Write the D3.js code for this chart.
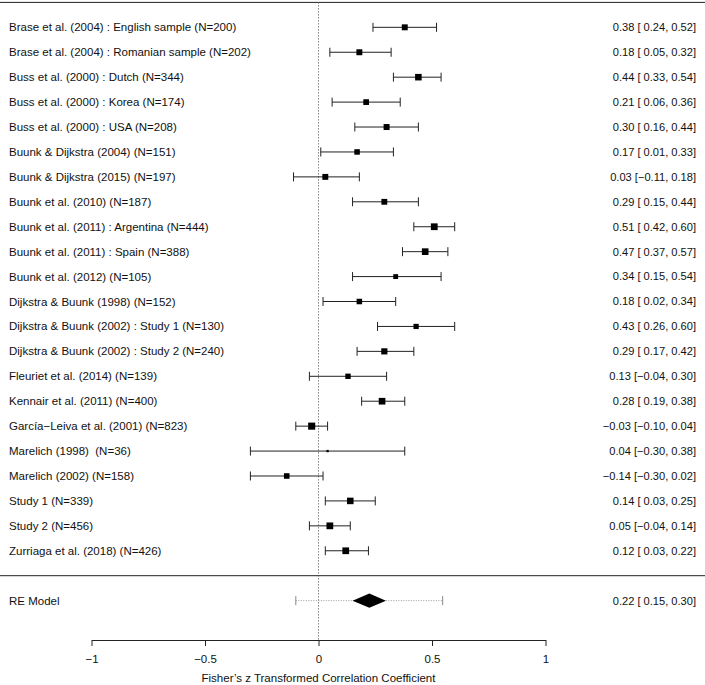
<!DOCTYPE html>
<html>
<head>
<meta charset="utf-8">
<script src="https://cdn.jsdelivr.net/npm/d3@7"></script>
<style>
  html, body { margin: 0; padding: 0; background: #fff; }
  svg { display: block; font-family: "Liberation Sans", Arial, Helvetica, sans-serif; }
  text { white-space: pre; }
</style>
</head>
<body>
<svg id="chart" width="705" height="685"></svg>
<script>
const studies = [
  "Brase et al. (2004) : English sample (N=200)",
  "Brase et al. (2004) : Romanian sample (N=202)",
  "Buss et al. (2000) : Dutch (N=344)",
  "Buss et al. (2000) : Korea (N=174)",
  "Buss et al. (2000) : USA (N=208)",
  "Buunk & Dijkstra (2004) (N=151)",
  "Buunk & Dijkstra (2015) (N=197)",
  "Buunk et al. (2010) (N=187)",
  "Buunk et al. (2011) : Argentina (N=444)",
  "Buunk et al. (2011) : Spain (N=388)",
  "Buunk et al. (2012) (N=105)",
  "Dijkstra & Buunk (1998) (N=152)",
  "Dijkstra & Buunk (2002) : Study 1 (N=130)",
  "Dijkstra & Buunk (2002) : Study 2 (N=240)",
  "Fleuriet et al. (2014) (N=139)",
  "Kennair et al. (2011) (N=400)",
  "García\u2212Leiva et al. (2001) (N=823)",
  "Marelich (1998)  (N=36)",
  "Marelich (2002) (N=158)",
  "Study 1 (N=339)",
  "Study 2 (N=456)",
  "Zurriaga et al. (2018) (N=426)"
];
const sampleN = [200, 202, 344, 174, 208, 151, 197, 187, 444, 388, 105, 152, 130, 240, 139, 400, 823, 36, 158, 339, 456, 426];
const estimate = [0.38, 0.18, 0.44, 0.21, 0.30, 0.17, 0.03, 0.29, 0.51, 0.47, 0.34, 0.18, 0.43, 0.29, 0.13, 0.28, -0.03, 0.04, -0.14, 0.14, 0.05, 0.12];
const ciLower  = [0.24, 0.05, 0.33, 0.06, 0.16, 0.01, -0.11, 0.15, 0.42, 0.37, 0.15, 0.02, 0.26, 0.17, -0.04, 0.19, -0.10, -0.30, -0.30, 0.03, -0.04, 0.03];
const ciUpper  = [0.52, 0.32, 0.54, 0.36, 0.44, 0.33, 0.18, 0.44, 0.60, 0.57, 0.54, 0.34, 0.60, 0.42, 0.30, 0.38, 0.04, 0.38, 0.02, 0.25, 0.14, 0.22];

const reLabel = "RE Model";
const reEstimate = 0.224;
const reLower = 0.15;
const reUpper = 0.297;
const rePredLower = -0.10;
const rePredUpper = 0.547;
const tau2 = 0.025;

const xTicks = [-1, -0.5, 0, 0.5, 1];
const xTitle = "Fisher\u2019s z Transformed Correlation Coefficient";

// ---------------------------------------------
const W = 705, H = 685;
const svg = d3.select("#chart");
const k = studies.length;

const x = d3.scaleLinear().domain([-1, 1]).range([91.5, 545.5]);
// row k+1 = top line, rows k..1 studies, 0 = separator, -1 = RE model
const y = d3.scaleLinear().domain([k + 1, 0]).range([2.4, 575.7]);
const axisY = 640;

const fmt = v => (v < 0 ? "\u2212" : "") + Math.abs(v).toFixed(2);
const fmtPad = v => (v < 0 ? "\u2212" : " ") + Math.abs(v).toFixed(2);
const annot = (e, l, u) => `${fmt(e)} [${fmtPad(l)}, ${fmt(u)}]`;

// weights -> square size
const weights = sampleN.map(n => 1 / (1 / (n - 3) + tau2));
const wScale = d3.scaleLinear().domain(d3.extent(weights)).range([2.3, 7.1]);

const fontSize = 11.5;
const annotSize = 11.1;
const capH = 4.5;

// horizontal lines
svg.append("line").attr("x1", 0).attr("x2", W).attr("y1", y(k + 1)).attr("y2", y(k + 1))
  .attr("stroke", "#222").attr("stroke-width", 1);
svg.append("line").attr("x1", 0).attr("x2", W).attr("y1", y(0)).attr("y2", y(0))
  .attr("stroke", "#222").attr("stroke-width", 1);

// vertical reference line at 0
svg.append("line").attr("x1", x(0)).attr("x2", x(0)).attr("y1", y(k + 1)).attr("y2", axisY)
  .attr("stroke", "#444").attr("stroke-width", 1).attr("stroke-dasharray", "1,2");

const rows = studies.map((s, i) => ({
  label: s, est: estimate[i], lo: ciLower[i], hi: ciUpper[i], w: weights[i], row: k - i
}));

const g = svg.append("g");
const rg = g.selectAll("g.row").data(rows).join("g").attr("class", "row");

rg.append("line")
  .attr("x1", d => x(d.lo)).attr("x2", d => x(d.hi))
  .attr("y1", d => y(d.row)).attr("y2", d => y(d.row))
  .attr("stroke", "#222").attr("stroke-width", 1);
rg.append("line")
  .attr("x1", d => x(d.lo)).attr("x2", d => x(d.lo))
  .attr("y1", d => y(d.row) - capH).attr("y2", d => y(d.row) + capH)
  .attr("stroke", "#222").attr("stroke-width", 1);
rg.append("line")
  .attr("x1", d => x(d.hi)).attr("x2", d => x(d.hi))
  .attr("y1", d => y(d.row) - capH).attr("y2", d => y(d.row) + capH)
  .attr("stroke", "#222").attr("stroke-width", 1);
rg.append("rect")
  .attr("x", d => x(d.est) - wScale(d.w) / 2)
  .attr("y", d => y(d.row) - wScale(d.w) / 2)
  .attr("width", d => wScale(d.w)).attr("height", d => wScale(d.w))
  .attr("fill", "#000");
rg.append("text")
  .attr("x", 9).attr("y", d => y(d.row)).attr("dy", "0.35em")
  .attr("font-size", fontSize).attr("fill", "#111")
  .text(d => d.label);
rg.append("text")
  .attr("x", 696).attr("y", d => y(d.row)).attr("dy", "0.35em")
  .attr("text-anchor", "end")
  .attr("font-size", annotSize).attr("fill", "#111")
  .text(d => annot(d.est, d.lo, d.hi));

// RE model
const yRE = y(-1);
svg.append("line").attr("x1", x(rePredLower)).attr("x2", x(rePredUpper)).attr("y1", yRE).attr("y2", yRE)
  .attr("stroke", "#999").attr("stroke-width", 1).attr("stroke-dasharray", "1,1.5");
[rePredLower, rePredUpper].forEach(v => {
  svg.append("line").attr("x1", x(v)).attr("x2", x(v)).attr("y1", yRE - capH).attr("y2", yRE + capH)
    .attr("stroke", "#888").attr("stroke-width", 1);
});
const dH = 7.2;
svg.append("path")
  .attr("d", `M${x(reLower)},${yRE} L${x(reEstimate)},${yRE - dH} L${x(reUpper)},${yRE} L${x(reEstimate)},${yRE + dH} Z`)
  .attr("fill", "#000");
svg.append("text").attr("x", 9).attr("y", yRE).attr("dy", "0.35em")
  .attr("font-size", fontSize).attr("fill", "#111").text(reLabel);
svg.append("text").attr("x", 696).attr("y", yRE).attr("dy", "0.35em").attr("text-anchor", "end")
  .attr("font-size", annotSize).attr("fill", "#111").text(annot(0.22, 0.15, 0.30));

// axis
const axis = d3.axisBottom(x).tickValues(xTicks).tickFormat(d3.format("")).tickSize(6).tickSizeOuter(0).tickPadding(9);
const ag = svg.append("g").attr("transform", `translate(0,${axisY})`).call(axis);
ag.select(".domain").attr("stroke", "#222");
ag.selectAll(".tick line").attr("stroke", "#222");
ag.selectAll(".tick text").attr("font-size", fontSize).attr("fill", "#111")
  .attr("font-family", "'Liberation Sans', Arial, sans-serif");

svg.append("text").attr("x", x(0)).attr("y", 682).attr("text-anchor", "middle")
  .attr("font-size", fontSize).attr("fill", "#111").text(xTitle);
</script>
</body>
</html>
